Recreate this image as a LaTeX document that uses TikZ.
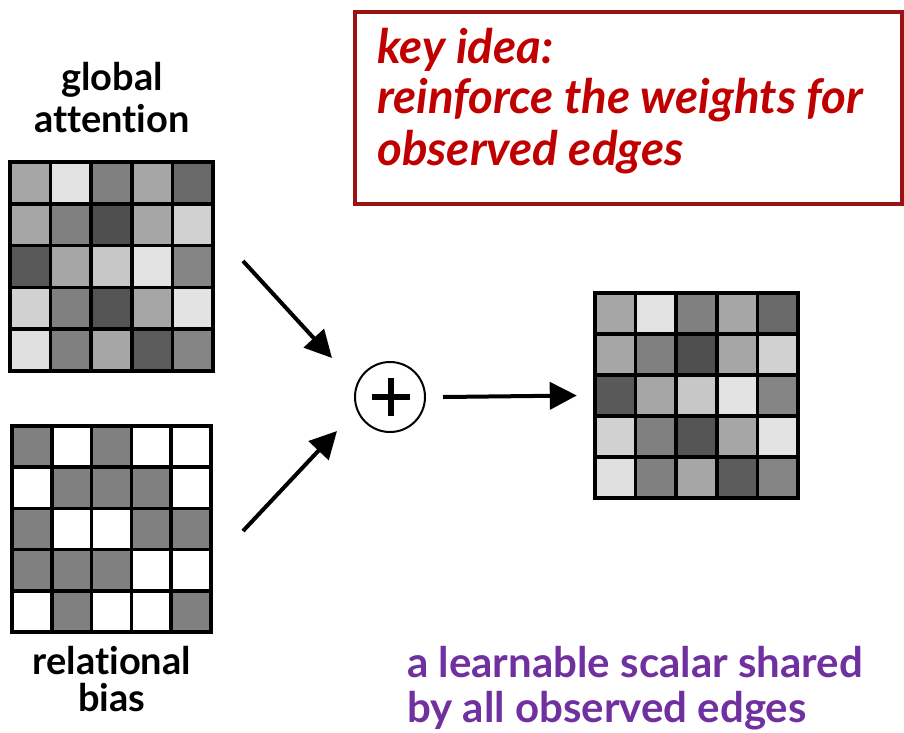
\documentclass[tikz,border=0pt]{standalone}
\usepackage{fontspec}
\setmainfont{Lato}[Ligatures={NoCommon}]
\usetikzlibrary{arrows.meta}
\definecolor{boxred}{HTML}{9A1212}
\definecolor{txtred}{HTML}{C00000}
\definecolor{txtpurple}{HTML}{7030A0}
\tikzset{
  gridline/.style={draw=black,line width=3.5pt},
  conn/.style={line width=4pt,-{Triangle[length=27pt,width=27pt]}},
  lbl/.style={font=\fontsize{38}{46}\selectfont\bfseries,anchor=base,inner sep=0pt},
  redtxt/.style={font=\fontsize{47.5}{56}\selectfont\bfseries\itshape,text=txtred,anchor=base west,inner sep=0pt},
  purtxt/.style={font=\fontsize{42}{50}\selectfont\bfseries,text=txtpurple,anchor=base west,inner sep=0pt},
}
% \mygrid{x0}{y0}{cellw}{cellh}{list of 25 black-percentages}
\newcommand{\mygrid}[5]{%
  \foreach \v [count=\i from 0] in {#5} {%
    \pgfmathtruncatemacro{\cc}{mod(\i,5)}%
    \pgfmathtruncatemacro{\rr}{int(\i/5)}%
    \fill[black!\v] ({#1+\cc*#3},{#2+\rr*#4}) rectangle ++(#3,#4);
  }
  \foreach \k in {0,...,5} {%
    \draw[gridline,line cap=rect] ({#1+\k*#3},#2) -- ++(0,{5*#4});
    \draw[gridline,line cap=rect] (#1,{#2+\k*#4}) -- ++({5*#3},0);
  }
}
\begin{document}
\begin{tikzpicture}[x=1pt,y=-1pt]
\useasboundingbox (0,0) rectangle (904,732);
\fill[white] (0,0) rectangle (904,732);

% grids
\mygrid{10}{162}{40.6}{41.8}{35,11,50,35,59, 35,50,69,35,18, 65,35,22,11,48, 18,50,67,35,11, 12,50,35,64,48}
\mygrid{12}{426}{39.8}{41.2}{50,0,50,0,0, 0,50,50,50,0, 50,0,0,50,50, 50,50,50,0,0, 0,50,0,0,50}
\mygrid{595}{293}{40.6}{41}{35,11,50,35,59, 35,50,69,35,18, 65,35,22,11,48, 18,50,67,35,11, 12,50,35,64,48}

\node[inner sep=0pt,minimum width=203pt,minimum height=209pt] (ga) at (111.5,266.5) {};
\node[inner sep=0pt,minimum width=199pt,minimum height=206pt] (rb) at (111.5,529) {};
\node[inner sep=0pt,minimum width=203pt,minimum height=205pt] (out) at (696.5,395.5) {};

% labels
\node[lbl] (g1) at (112,90) {global};
\node[lbl] (g2) at (112,132) {attention};
\node[lbl] (r1) at (112,674) {relational};
\node[lbl] (r2) at (112,711) {bias};

% key idea box
\draw[boxred,line width=4pt] (355,12) rectangle (902,204);
\node[redtxt] (k1) at (377,63) {key idea:};
\node[redtxt] (k2) at (377,113) {reinforce the weights for};
\node[redtxt] (k3) at (377,165) {observed edges};

% plus
\node[circle,draw,line width=2pt,minimum size=70pt,inner sep=0pt] (plus) at (390,397) {};
\draw[line width=5.5pt] (372,397) -- (410,397);
\draw[line width=5.5pt] (391,378) -- (391,416);

% arrows
\coordinate (a1s) at (243,261);
\coordinate (a1e) at (332,358);
\coordinate (a2s) at (243,531);
\coordinate (a2e) at (337,431);
\draw[conn] (a1s) -- (a1e);
\draw[conn] (a2s) -- (a2e);
\draw[conn] ([xshift=17pt]plus.east) -- ([xshift=-18pt]out.west);

% purple
\node[purtxt] (p1) at (407,677) {a learnable scalar shared};
\node[purtxt] (p2) at (407,722) {by all observed edges};
\end{tikzpicture}
\end{document}
